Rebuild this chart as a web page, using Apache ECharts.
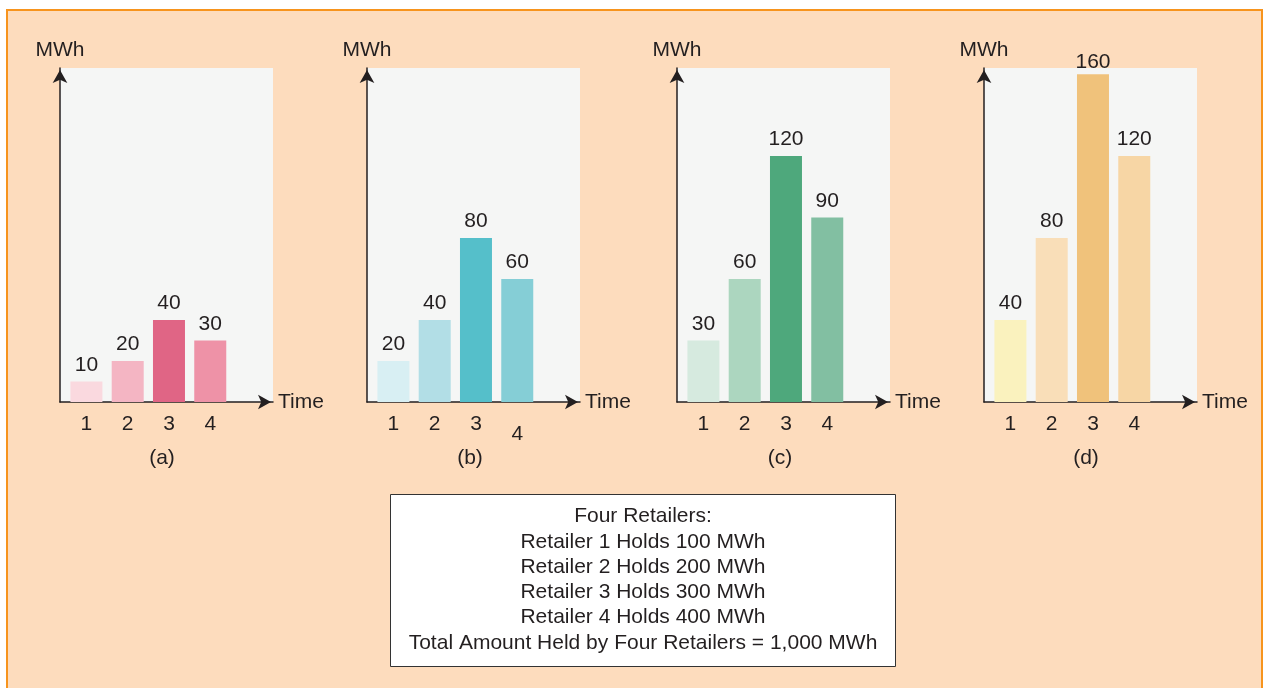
<!DOCTYPE html>
<html>
<head>
<meta charset="utf-8">
<title>Retailer holdings over time</title>
<script src="https://cdn.jsdelivr.net/npm/echarts@6/dist/echarts.min.js"></script>
<style>
  html, body { margin: 0; padding: 0; background: #ffffff; }
  #frame {
    position: absolute; left: 6px; top: 9px; width: 1257px; height: 700px;
    background: #fddcbd; border: 2px solid #f7941d; box-sizing: border-box;
  }
  #chart { position: absolute; left: 0; top: 0; width: 1263px; height: 688px; }
</style>
</head>
<body>
<div id="frame"></div>
<div id="chart"></div>
<script>
// Time slots on the horizontal axis
const timeSlots = [1, 2, 3, 4];

// Energy held (MWh) in each time slot, one array per panel
const panelA = [10, 20, 40, 30];
const panelB = [20, 40, 80, 60];
const panelC = [30, 60, 120, 90];
const panelD = [40, 80, 160, 120];

const panelTags = ['(a)', '(b)', '(c)', '(d)'];

// Bar colours per panel
const coloursA = ['#fad9df', '#f4b5c3', '#e06585', '#ee92a7'];
const coloursB = ['#d8eff3', '#b2dee6', '#55bfca', '#85ced6'];
const coloursC = ['#d6eadf', '#acd6bf', '#4ea87c', '#82bfa2'];
const coloursD = ['#faf2be', '#f9deb8', '#f0c27b', '#f7d6a5'];

// Summary box text
const summaryLines = [
  'Four Retailers:',
  'Retailer 1 Holds 100 MWh',
  'Retailer 2 Holds 200 MWh',
  'Retailer 3 Holds 300 MWh',
  'Retailer 4 Holds 400 MWh',
  'Total Amount Held by Four Retailers = 1,000 MWh'
];

const panels = [
  { values: panelA, colours: coloursA },
  { values: panelB, colours: coloursB },
  { values: panelC, colours: coloursC },
  { values: panelD, colours: coloursD }
];

const FONT = '"Liberation Sans", Arial, Helvetica, sans-serif';
const FS = 21;
const INK = '#231f20';
const gridLefts = [60, 367, 677, 984];
const gridWidth = 213;
const gridTop = 68;
const gridHeight = 334;
const yMax = 163;
const tagX = [162, 470, 780, 1086];

const grids = [], xAxes = [], yAxes = [], series = [], graphics = [];

panels.forEach((p, i) => {
  grids.push({
    left: gridLefts[i], top: gridTop, width: gridWidth, height: gridHeight,
    show: true, backgroundColor: '#f5f6f5', borderWidth: 0
  });
  xAxes.push({
    type: 'value', gridIndex: i, min: 0.36, max: 5.52,
    name: 'Time', nameLocation: 'end', nameGap: 5,
    nameTextStyle: { fontFamily: FONT, fontSize: FS, color: INK, verticalAlign: 'middle' },
    splitLine: { show: false },
    axisLine: {
      show: true, onZero: false,
      lineStyle: { color: INK, width: 1.5 },
      symbol: ['none', 'arrow'], symbolSize: [11, 13], symbolOffset: [0, -2]
    },
    axisTick: { show: false },
    axisLabel: {
      customValues: timeSlots, margin: 12,
      fontFamily: FONT, fontSize: FS, color: INK,
      formatter: v => (i === 1 && v === 4) ? '{low|4}' : String(v),
      rich: { low: { fontFamily: FONT, fontSize: FS, color: INK, padding: [10, 0, 0, 0] } }
    }
  });
  yAxes.push({
    type: 'value', gridIndex: i, min: 0, max: yMax,
    name: 'MWh', nameLocation: 'end', nameGap: 7,
    nameTextStyle: { fontFamily: FONT, fontSize: FS, color: INK },
    splitLine: { show: false },
    axisLine: {
      show: true,
      lineStyle: { color: INK, width: 1.5 },
      symbol: ['none', 'arrow'], symbolSize: [11, 13], symbolOffset: [0, -2]
    },
    axisTick: { show: false },
    axisLabel: { show: false }
  });
  series.push({
    type: 'bar', xAxisIndex: i, yAxisIndex: i, barWidth: 32,
    data: timeSlots.map((t, k) => ({
      value: [t, p.values[k]],
      itemStyle: { color: p.colours[k] },
      // a bar reaching the top of the plot keeps its label tucked closer
      label: p.values[k] > yMax - 10 ? { distance: 1 } : undefined
    })),
    label: {
      show: true, position: 'top', distance: 6,
      fontFamily: FONT, fontSize: FS, color: INK,
      formatter: d => d.value[1]
    },
    silent: true
  });
  graphics.push({
    type: 'text', x: tagX[i], y: 458,
    style: { text: panelTags[i], font: FS + 'px ' + FONT, fill: INK, textAlign: 'center', textVerticalAlign: 'middle' }
  });
});

// Summary box
graphics.push({
  type: 'rect', shape: { x: 390.5, y: 494.5, width: 505, height: 172 },
  style: { fill: '#ffffff', stroke: '#333333', lineWidth: 1 }
});
summaryLines.forEach((line, k) => {
  graphics.push({
    type: 'text', x: 643, y: 516.5 + k * 25.3,
    style: { text: line, font: FS + 'px ' + FONT, fill: INK, textAlign: 'center', textVerticalAlign: 'middle' }
  });
});

const chart = echarts.init(document.getElementById('chart'), null, { renderer: 'canvas' });
chart.setOption({
  backgroundColor: 'transparent',
  animation: false,
  grid: grids,
  xAxis: xAxes,
  yAxis: yAxes,
  series: series,
  graphic: graphics
});
</script>
</body>
</html>
